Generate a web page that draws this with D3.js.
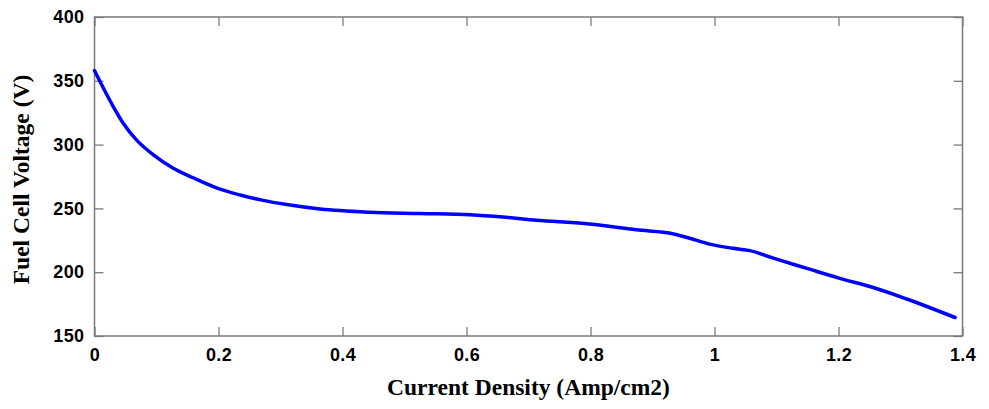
<!DOCTYPE html>
<html>
<head>
<meta charset="utf-8">
<script src="https://cdn.jsdelivr.net/npm/d3@7"></script>
<style>
  html, body { margin: 0; padding: 0; background: #fff; }
  svg { display: block; }
</style>
</head>
<body>
<svg id="chart" width="989" height="409"></svg>
<script>
const currentDensity = [0, 0.014, 0.03, 0.046, 0.068, 0.095, 0.127, 0.159, 0.2, 0.235, 0.27, 0.31, 0.364, 0.444, 0.525, 0.606, 0.659, 0.713, 0.794, 0.874, 0.934, 0.96, 0.992, 1.03, 1.057, 1.095, 1.149, 1.202, 1.256, 1.31, 1.388];
const voltage = [358, 344.5, 330, 317, 303.5, 292, 281.5, 274, 265.5, 260.5, 256.5, 253, 249.5, 247, 246, 245, 243.2, 240.7, 238, 233.2, 230, 226.6, 222, 218.7, 216.9, 211, 203, 195.2, 188, 179, 164.5];
const xTicks = [0, 0.2, 0.4, 0.6, 0.8, 1, 1.2, 1.4];
const yTicks = [150, 200, 250, 300, 350, 400];
const xLabel = "Current Density (Amp/cm2)";
const yLabel = "Fuel Cell Voltage (V)";

const svg = d3.select("#chart");
const L = 94.5, R = 962.5, T = 17, B = 336;
const x = d3.scaleLinear().domain([0, 1.4]).range([L, R]);
const y = d3.scaleLinear().domain([150, 400]).range([B, T]);
const axisColor = "#7a7a7a";
const tickLen = 9;

function styleAxis(g, showLabels) {
  g.select(".domain").remove();
  g.selectAll(".tick line").attr("stroke", axisColor).attr("stroke-width", 1.3);
  g.selectAll(".tick text")
    .attr("fill", "#000")
    .style("font-family", "'Liberation Sans', Arial, sans-serif")
    .style("font-weight", "bold")
    .style("font-size", "18px")
    .style("letter-spacing", "0.4px");
  if (!showLabels) g.selectAll(".tick text").remove();
}

// bottom axis
svg.append("g").attr("transform", `translate(0,${B})`)
  .call(d3.axisBottom(x).tickValues(xTicks).tickFormat(d3.format("~g")).tickSize(-tickLen).tickPadding(12))
  .call(g => styleAxis(g, true));
// top axis
svg.append("g").attr("transform", `translate(0,${T})`)
  .call(d3.axisTop(x).tickValues(xTicks).tickSize(-tickLen))
  .call(g => styleAxis(g, false));
// left axis
svg.append("g").attr("transform", `translate(${L},0)`)
  .call(d3.axisLeft(y).tickValues(yTicks).tickFormat(d3.format("d")).tickSize(-tickLen).tickPadding(10))
  .call(g => styleAxis(g, true));
// right axis
svg.append("g").attr("transform", `translate(${R},0)`)
  .call(d3.axisRight(y).tickValues(yTicks).tickSize(-tickLen))
  .call(g => styleAxis(g, false));

// frame
svg.append("rect")
  .attr("x", L).attr("y", T).attr("width", R - L).attr("height", B - T)
  .attr("fill", "none").attr("stroke", axisColor).attr("stroke-width", 1.5);

// curve
const data = currentDensity.map((c, i) => [c, voltage[i]]);
svg.append("path")
  .datum(data)
  .attr("fill", "none")
  .attr("stroke", "#0000ff")
  .attr("stroke-width", 3.5)
  .attr("stroke-linejoin", "round")
  .attr("stroke-linecap", "round")
  .attr("d", d3.line().x(d => x(d[0])).y(d => y(d[1])).curve(d3.curveMonotoneX));

// axis titles
svg.append("text")
  .attr("x", (L + R) / 2).attr("y", 395)
  .attr("text-anchor", "middle")
  .style("font-family", "'Liberation Serif', 'Times New Roman', serif")
  .style("font-weight", "bold")
  .style("font-size", "23.5px")
  .text(xLabel);
svg.append("text")
  .attr("transform", `translate(29,${(T + B) / 2 + 3}) rotate(-90)`)
  .attr("text-anchor", "middle")
  .style("font-family", "'Liberation Serif', 'Times New Roman', serif")
  .style("font-weight", "bold")
  .style("font-size", "23.5px")
  .text(yLabel);
</script>
</body>
</html>
